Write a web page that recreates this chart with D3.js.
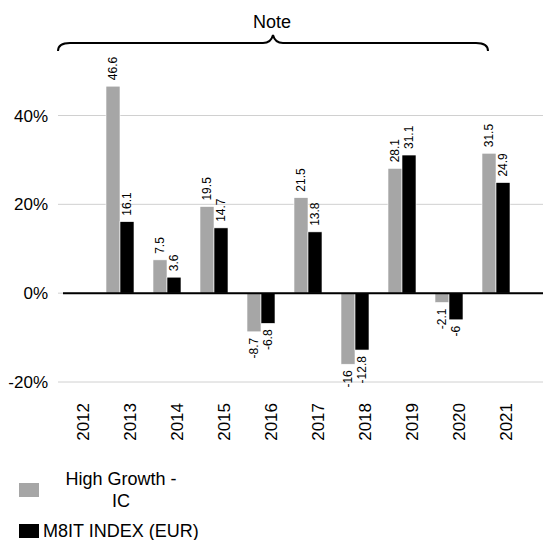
<!DOCTYPE html>
<html>
<head>
<meta charset="utf-8">
<script src="https://cdn.jsdelivr.net/npm/d3@7"></script>
<style>
  body { margin: 0; background: #fff; }
  svg { font-family: "Liberation Sans", Arial, sans-serif; }
</style>
</head>
<body>
<svg id="chart" width="543" height="540"></svg>
<script>
// data
const years = ['2012', '2013', '2014', '2015', '2016', '2017', '2018', '2019', '2020', '2021'];
const highGrowth = [null, 46.6, 7.5, 19.5, -8.7, 21.5, -16, 28.1, -2.1, 31.5];
const m8it = [null, 16.1, 3.6, 14.7, -6.8, 13.8, -12.8, 31.1, -6, 24.9];
const yTicks = [-20, 0, 20, 40];
const seriesNames = ['High Growth -\nIC', 'M8IT INDEX (EUR)'];
const seriesColors = ['#a6a6a6', '#000000'];

const svg = d3.select('#chart');

let x = d3.scaleBand()
    .domain(years)
    .range([49.5, 519.5])
    .paddingInner(0)
    .paddingOuter(0);

let y = d3.scaleLinear()
    .domain([-20, 40])
    .range([382, 115.5]);

const barW = 14;

// gridlines
svg.append('g')
  .selectAll('line')
  .data(yTicks)
  .enter().append('line')
    .attr('x1', 58).attr('x2', 543)
    .attr('y1', d => y(d)).attr('y2', d => y(d))
    .attr('stroke', '#d0d0d0')
    .attr('stroke-width', 1);

// y labels
svg.append('g')
  .selectAll('text')
  .data(yTicks)
  .enter().append('text')
    .attr('x', 48)
    .attr('y', d => y(d))
    .attr('dy', '0.36em')
    .attr('text-anchor', 'end')
    .attr('font-size', 17)
    .attr('fill', '#000')
    .text(d => d + '%');

// bars
const series = [highGrowth, m8it];
series.forEach(function(vals, s) {
  let rows = years.map((yr, i) => ({ yr: yr, v: vals[i] })).filter(d => d.v != null);
  let g = svg.append('g');
  g.selectAll('rect')
    .data(rows)
    .enter().append('rect')
      .attr('x', d => x(d.yr) + x.bandwidth() / 2 - barW + s * barW)
      .attr('width', barW)
      .attr('y', d => Math.min(y(d.v), y(0)))
      .attr('height', d => Math.abs(y(d.v) - y(0)))
      .attr('fill', seriesColors[s])
      .attr('stroke', '#fff')
      .attr('stroke-width', 0.6);

  // value labels, rotated
  g.selectAll('text')
    .data(rows)
    .enter().append('text')
      .attr('transform', function(d) {
        let cx = x(d.yr) + x.bandwidth() / 2 - barW / 2 + s * barW;
        let cy = d.v >= 0 ? y(d.v) - 6 : y(d.v) + 6;
        return 'translate(' + cx + ',' + cy + ') rotate(-90)';
      })
      .attr('text-anchor', d => d.v >= 0 ? 'start' : 'end')
      .attr('dy', '0.35em')
      .attr('font-size', 12)
      .attr('fill', '#000')
      .text(d => d.v);
});

// zero axis line
svg.append('line')
  .attr('x1', 63).attr('x2', 543)
  .attr('y1', y(0)).attr('y2', y(0))
  .attr('stroke', '#000')
  .attr('stroke-width', 2);

// category labels
svg.append('g')
  .selectAll('text')
  .data(years)
  .enter().append('text')
    .attr('transform', d => 'translate(' + (x(d) + x.bandwidth() / 2 + 10) + ',403) rotate(-90)')
    .attr('text-anchor', 'end')
    .attr('dy', '0.35em')
    .attr('font-size', 17)
    .attr('fill', '#000')
    .text(d => d);

// brace + Note
const braceY = 43;
const bx0 = 58, bx1 = 488, bmid = 273;
svg.append('path')
  .attr('d', 'M' + bx0 + ',51 Q' + bx0 + ',' + braceY + ' ' + (bx0 + 12) + ',' + braceY +
             ' L' + (bmid - 10) + ',' + braceY +
             ' Q' + (bmid - 2) + ',' + braceY + ' ' + bmid + ',35' +
             ' Q' + (bmid + 2) + ',' + braceY + ' ' + (bmid + 10) + ',' + braceY +
             ' L' + (bx1 - 12) + ',' + braceY +
             ' Q' + bx1 + ',' + braceY + ' ' + bx1 + ',51')
  .attr('fill', 'none')
  .attr('stroke', '#000')
  .attr('stroke-width', 2);

svg.append('text')
  .attr('x', 272).attr('y', 28)
  .attr('text-anchor', 'middle')
  .attr('font-size', 18)
  .attr('fill', '#000')
  .text('Note');

// legend
const legend = svg.append('g');
legend.append('rect')
  .attr('x', 19).attr('y', 483).attr('width', 20).attr('height', 14)
  .attr('fill', seriesColors[0]);
let lt = legend.append('text')
  .attr('font-size', 18)
  .attr('text-anchor', 'middle')
  .attr('fill', '#000');
seriesNames[0].split('\n').forEach(function(line, i) {
  lt.append('tspan').attr('x', 121).attr('y', 485 + i * 22).text(line);
});
legend.append('rect')
  .attr('x', 19).attr('y', 524).attr('width', 20).attr('height', 14)
  .attr('fill', seriesColors[1]);
legend.append('text')
  .attr('x', 43).attr('y', 537)
  .attr('font-size', 18)
  .attr('fill', '#000')
  .text(seriesNames[1]);
</script>
</body>
</html>
